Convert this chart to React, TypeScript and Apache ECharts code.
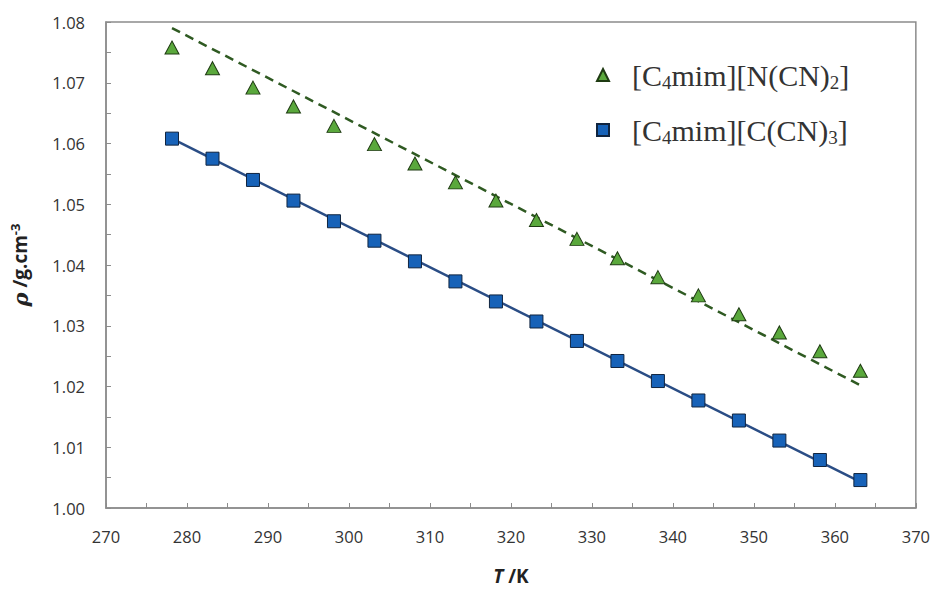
import React, { useEffect, useRef } from "react";
import * as echarts from "echarts";

const temperatures = [
  278.15, 283.15, 288.15, 293.15, 298.15, 303.15, 308.15, 313.15, 318.15,
  323.15, 328.15, 333.15, 338.15, 343.15, 348.15, 353.15, 358.15, 363.15,
];
const densityNCN2 = [
  1.0758, 1.0724, 1.0692, 1.0661, 1.0629, 1.0599, 1.0567, 1.0536, 1.0506,
  1.0474, 1.0443, 1.0411, 1.038, 1.035, 1.0319, 1.0289, 1.0258, 1.0226,
];
const densityCCN3 = [
  1.0608, 1.0575, 1.054, 1.0506, 1.0472, 1.044, 1.0406, 1.0373, 1.034,
  1.0307, 1.0275, 1.0242, 1.0209, 1.0177, 1.0144, 1.0111, 1.0079, 1.0046,
];
const fitNCN2 = [
  [278.15, 1.079],
  [363.15, 1.0202],
];
const fitCCN3 = [
  [278.15, 1.0608],
  [363.15, 1.0043],
];
const seriesNames = ["[C4mim][N(CN)2]", "[C4mim][C(CN)3]"];
const legendLabels: Record<string, string> = {
  "[C4mim][N(CN)2]": "[C{sub|4}mim][N(CN){sub|2}]",
  "[C4mim][C(CN)3]": "[C{sub|4}mim][C(CN){sub|3}]",
};

export default function App() {
  const ref = useRef<HTMLDivElement>(null);
  useEffect(() => {
    if (!ref.current) return;
    const chart = echarts.init(ref.current, null, { renderer: "svg" });
    const labelFont = {
      fontFamily: "Open Sans",
      fontSize: 16.5,
      color: "#333333",
    };
    chart.setOption({
      animation: false,
      backgroundColor: "#ffffff",
      grid: {
        left: 101,
        right: 15,
        top: 22,
        bottom: 69,
        show: true,
        borderColor: "#8c8c8c",
        borderWidth: 1.5,
      },
      legend: {
        data: seriesNames,
        orient: "vertical",
        left: 591,
        top: 53,
        itemGap: 21,
        itemWidth: 12,
        itemHeight: 12,
        formatter: (name: string) => legendLabels[name] || name,
        textStyle: {
          fontFamily: "Liberation Serif",
          fontSize: 30,
          color: "#333333",
          padding: [0, 0, 0, 18],
          lineHeight: 34,
          rich: {
            sub: {
              fontFamily: "Liberation Serif",
              fontSize: 19,
              color: "#333333",
              lineHeight: 19,
              verticalAlign: "bottom",
            },
          },
        },
      },
      xAxis: {
        type: "value",
        min: 270,
        max: 370,
        interval: 10,
        name: "{i|T} /K",
        nameLocation: "middle",
        nameGap: 58,
        nameTextStyle: {
          fontFamily: "Open Sans",
          fontSize: 19,
          fontWeight: "bold",
          color: "#222222",
          rich: {
            i: {
              fontFamily: "Open Sans",
              fontSize: 19,
              fontWeight: "bold",
              fontStyle: "italic",
              color: "#222222",
            },
          },
        },
        axisLine: { lineStyle: { color: "#8c8c8c", width: 1.5 } },
        axisTick: { inside: true, length: 5, lineStyle: { color: "#8c8c8c" } },
        minorTick: { show: true, splitNumber: 2, length: 5, lineStyle: { color: "#8c8c8c" } },
        axisLabel: { ...labelFont, margin: 20 },
        splitLine: { show: false },
      },
      yAxis: {
        type: "value",
        min: 1.0,
        max: 1.08,
        interval: 0.01,
        name: "{i|ρ} /g.cm{sup|-3}",
        nameLocation: "middle",
        nameGap: 74,
        nameTextStyle: {
          fontFamily: "Open Sans",
          fontSize: 19,
          fontWeight: "bold",
          color: "#222222",
          lineHeight: 24,
          rich: {
            i: {
              fontFamily: "DejaVu Serif",
              fontSize: 21,
              fontStyle: "italic",
              color: "#222222",
              lineHeight: 24,
            },
            sup: {
              fontFamily: "Open Sans",
              fontSize: 13,
              fontWeight: "bold",
              color: "#222222",
              lineHeight: 13,
              verticalAlign: "top",
            },
          },
        },
        axisLine: { show: true, lineStyle: { color: "#8c8c8c", width: 1.5 } },
        axisTick: { show: true, inside: true, length: 5, lineStyle: { color: "#8c8c8c" } },
        minorTick: { show: true, splitNumber: 2, length: 5, lineStyle: { color: "#8c8c8c" } },
        axisLabel: {
          ...labelFont,
          margin: 21,
          formatter: (v: number) => v.toFixed(2),
        },
        splitLine: { show: false },
      },
      series: [
        {
          type: "line",
          name: "fit1",
          data: fitNCN2,
          symbol: "none",
          lineStyle: { color: "#2f5a22", width: 2.5, type: [9, 6] },
          z: 2,
        },
        {
          type: "line",
          name: "fit2",
          data: fitCCN3,
          symbol: "none",
          lineStyle: { color: "#2a4d85", width: 2.5 },
          z: 2,
        },
        {
          type: "scatter",
          name: seriesNames[0],
          data: temperatures.map((t, i) => [t, densityNCN2[i]]),
          symbol: "triangle",
          symbolSize: [14, 13],
          itemStyle: { color: "#5aa83c", borderColor: "#1e3a12", borderWidth: 1, opacity: 1 },
          z: 3,
        },
        {
          type: "scatter",
          name: seriesNames[1],
          data: temperatures.map((t, i) => [t, densityCCN3[i]]),
          symbol: "rect",
          symbolSize: 13,
          itemStyle: { color: "#1762b8", borderColor: "#10243f", borderWidth: 1, opacity: 1 },
          z: 3,
        },
      ],
    });
    return () => chart.dispose();
  }, []);
  return (
    <div
      ref={ref}
      style={{ position: "fixed", left: 0, top: 0, width: 933, height: 590 }}
    />
  );
}
